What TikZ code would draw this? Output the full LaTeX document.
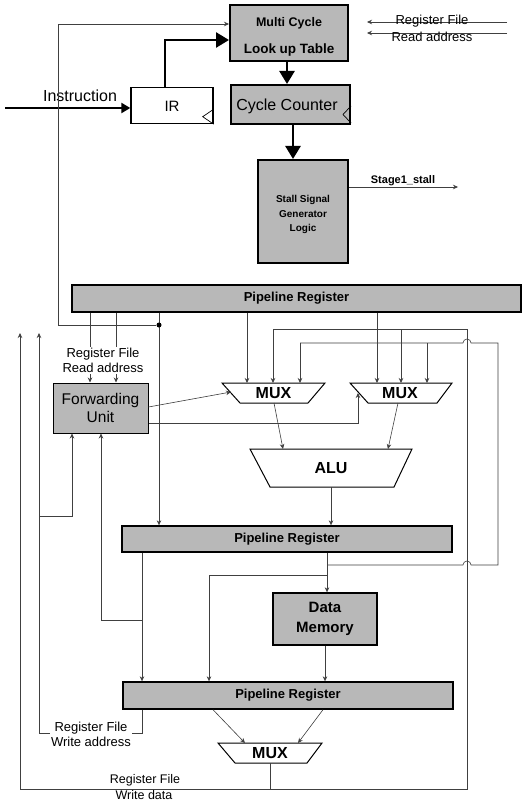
\documentclass[tikz,border=0pt]{standalone}
\usepackage{fontspec}
\setmainfont{Liberation Sans}
\usetikzlibrary{arrows.meta,calc}
\begin{document}
\begin{tikzpicture}[x=1pt,y=-1pt,
  wire/.style={draw=black!75,line width=0.6pt},
  arr/.style={wire,-{Stealth[length=5pt,width=4.5pt]}},
  fatarr/.style={line width=2.6pt,line join=miter,-{Triangle[length=13pt,width=15pt]}},
  graybox/.style={draw=black,line width=2pt,fill=black!28,inner sep=0pt},
  preg/.style={draw=black,line width=1.4pt,fill=black!28,inner sep=0pt,font=\bfseries\fontsize{13}{15}\selectfont},
  lbl/.style={font=\fontsize{13}{15}\selectfont,align=center,inner sep=1.5pt},
  wlbl/.style={lbl,fill=white},
  boldtxt/.style={font=\bfseries\fontsize{16}{18}\selectfont,inner sep=0pt},
  trap/.style={draw=black,line width=1pt,fill=white}
]
\fill[white] (0,0) rectangle (524,802);
\useasboundingbox (0,0) rectangle (524,802);

% ---------- top section ----------
\node[graybox,minimum width=118pt,minimum height=56pt] (lut) at (289,33) {};
\node[font=\bfseries\fontsize{12.5}{14}\selectfont,inner sep=0pt] (luta) at (289,23) {Multi Cycle};
\node[font=\bfseries\fontsize{13.5}{15}\selectfont,inner sep=0pt] (lutb) at (289,50) {Look up Table};

\node[draw=black,line width=1.4pt,fill=white,minimum width=82pt,minimum height=36pt,inner sep=0pt] (ir) at (172,105.5) {};
\node[font=\fontsize{15}{17}\selectfont,inner sep=0pt] (irt) at (172,106) {IR};
\draw[line width=0.7pt] ($(ir.south east)+(0,-15)$) -- ++(-11,7.5) -- ($(ir.south east)+(0,0)$);

\node[graybox,minimum width=119pt,minimum height=39pt] (cc) at (290.5,104.5) {};
\node[font=\fontsize{16}{18}\selectfont,inner sep=0pt] (cct) at (287,106) {Cycle Counter};
\draw[line width=0.7pt] ($(cc.south east)+(0,-19)$) -- ++(-8,8.5) -- ($(cc.south east)+(0,-2)$);

\node[graybox,minimum width=90pt,minimum height=103pt] (stall) at (303,211.5) {};
\node[font=\bfseries\fontsize{10}{14.5}\selectfont,align=center,inner sep=0pt] (stallt) at (303,214.5) {Stall Signal\\Generator\\Logic};

\coordinate (instr) at (5,108);
\draw[line width=2.6pt,-{Triangle[length=9pt,width=10pt]}] (instr) -- (instr -| ir.west);
\node[font=\fontsize{16}{18}\selectfont,inner sep=0pt] (instrt) at (80,96) {Instruction};

\draw[fatarr] (ir.north -| 165,0) -- (165,40) -- (lut.west |- 0,40);
\draw[fatarr] (lut.south -| 287,0) -- (cc.north -| 287,0);
\draw[fatarr] (cc.south -| 293,0) -- (stall.north -| 293,0);

\coordinate (rfa) at (507,22);
\coordinate (rfb) at (507,33);
\draw[arr] (rfa) -- (367,22);
\draw[arr] (rfb) -- (367,33);
\node[lbl] (rft1) at (432,21) {Register File};
\node[lbl] (rft2) at (432,37) {Read address};

\coordinate (stallout) at (458,187);
\draw[arr] (stall.east |- stallout) -- (stallout);
\node[font=\bfseries\fontsize{11}{13}\selectfont,inner sep=0pt] (stallt2) at (403,180.5) {Stage1\_stall};

% ---------- pipeline registers ----------
\node[preg,minimum width=449pt,minimum height=27pt] (pr1) at (296.5,298.5) {Pipeline Register};
\node[preg,minimum width=330pt,minimum height=26pt] (pr2) at (287,539) {Pipeline Register};
\node[preg,minimum width=330pt,minimum height=27pt] (pr3) at (288,695.5) {Pipeline Register};

% ---------- forwarding unit ----------
\node[draw=black,line width=1pt,fill=black!28,minimum width=95pt,minimum height=50pt,inner sep=0pt,align=center,font=\fontsize{15.5}{18}\selectfont] (fu) at (100.5,408) {Forwarding\\Unit};

% ---------- data memory ----------
\node[draw=black,line width=1.4pt,fill=black!28,minimum width=104pt,minimum height=52pt,inner sep=0pt,align=center,font=\bfseries\fontsize{15}{20}\selectfont] (dm) at (325,619) {Data\\Memory};

% ---------- MUXes and ALU ----------
\draw[trap] (222,383) -- (325,383) -- (308,403) -- (240,403) -- cycle;
\node[boldtxt] (mux1) at (273.5,393) {MUX};
\draw[trap] (350,383) -- (452,383) -- (437,403) -- (368,403) -- cycle;
\node[boldtxt] (mux2) at (400,393) {MUX};
\draw[trap] (250,449) -- (412,449) -- (394,487) -- (270,487) -- cycle;
\node[boldtxt] (alu) at (331,468) {ALU};
\draw[trap] (218,743) -- (322,743) -- (307,763) -- (235,763) -- cycle;
\node[boldtxt] (mux3) at (270,753) {MUX};

% ---------- thin connectors ----------
% PR1 -> PR2 bypass, and loop to LUT
\draw[arr] (pr1.south -| 159,0) -- (pr2.north -| 159,0);
\node[circle,fill=black,inner sep=0pt,minimum size=5pt] (dot) at (159,325) {};
\draw[arr] (dot) -- (58,325) -- (58,24) -- (lut.west |- 0,24);

% read addresses to forwarding unit
\draw[arr] (pr1.south -| 90,0) -- (fu.north -| 90,0);
\draw[arr] (pr1.south -| 116,0) -- (fu.north -| 116,0);
\node[wlbl] (rra) at (103,360.5) {Register File\\Read address};

% PR1 -> MUX inputs
\draw[arr] (pr1.south -| 247,0) -- (247,383);
\draw[arr] (pr1.south -| 377,0) -- (377,383);

% write-data loop
\draw[wire] (270,763) -- (270,789);
\coordinate (upA) at (20,333);
\draw[arr] (270,789) -- (20,789) -- (upA);
\draw[wire] (270,789) -- (467,789) -- (467,329) -- (273,329);
\draw[arr] (273,329) -- (273,383);
\draw[arr] (401,329) -- (401,383);
\node[inner sep=0pt,font=\fontsize{12.5}{15}\selectfont] (wd1) at (145,780) {Register File};
\node[inner sep=0pt,font=\fontsize{12.5}{15}\selectfont] (wd2) at (144,795) {Write data};

% ALU-result forwarding
\draw[arr] (pr2.south -| 327,0) -- (dm.north -| 327,0);
\draw[wire] (327,565) -- (463,565) arc[start angle=180,end angle=0,radius=4pt] -- (498,565) -- (498,343) -- (471,343) arc[start angle=0,end angle=180,radius=4pt] -- (300,343);
\draw[arr] (300,343) -- (300,383);
\draw[arr] (427,343) -- (427,383);
\draw[arr] (327,575) -- (209,575) -- (pr3.north -| 209,0);

% write address paths
\draw[arr] (pr2.south -| 142,0) -- (pr3.north -| 142,0);
\draw[arr] (142,620) -- (101,620) -- (fu.south -| 101,0);
\coordinate (upB) at (39,333);
\draw[arr] (pr3.south -| 142,0) -- (142,733) -- (39,733) -- (upB);
\draw[arr] (39,516) -- (72,516) -- (fu.south -| 72,0);
\node[wlbl] (wa) at (91,734.5) {Register File\\Write address};

% forwarding unit control outputs
\draw[arr] (fu.east |- 0,407) -- (231,392);
\draw[arr] (fu.east |- 0,423) -- (358,423) -- (358,393);

% MUX -> ALU -> PR2
\draw[arr] (274,403) -- (283,449);
\draw[arr] (398,403) -- (388,449);
\draw[arr] (331,487) -- (pr2.north -| 331,0);

% data memory -> PR3
\draw[arr] (dm.south) -- (dm.south |- pr3.north);

% PR3 -> MUX3
\draw[arr] (pr3.south -| 213,0) -- (245,743);
\draw[arr] (pr3.south -| 323,0) -- (298,743);
\end{tikzpicture}
\end{document}
